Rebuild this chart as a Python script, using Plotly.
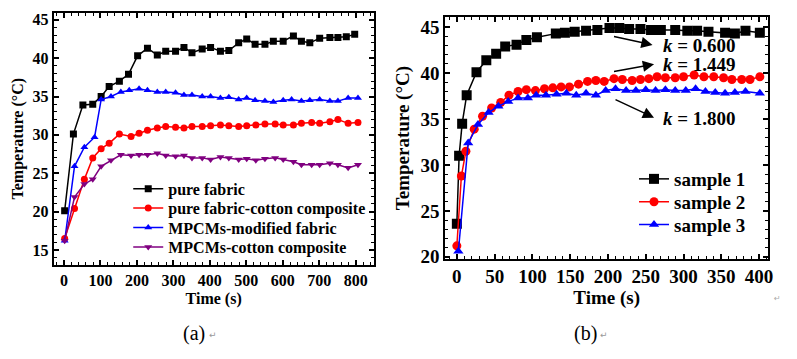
import plotly.graph_objects as go

# ---------------- Panel (a) data ----------------
a_pure_t = [2, 26, 52, 79, 102, 124, 152, 177, 202, 229, 256, 279, 306, 329, 351, 379, 402, 429,
            452, 479, 501, 524, 551, 574, 601, 629, 651, 674, 701, 729, 751, 774, 797]
a_pure_T = [20.1, 30.1, 33.9, 34.0, 35.0, 36.3, 37.0, 37.9, 40.3, 41.3, 40.4, 40.9, 40.9, 41.4, 40.7,
            41.2, 41.4, 40.9, 41.0, 42.0, 42.5, 41.8, 41.8, 42.2, 42.2, 42.9, 42.2, 42.0, 42.6, 42.7,
            42.7, 42.8, 43.1]

a_pfc_t = [2, 29, 56, 79, 102, 124, 152, 184, 206, 229, 256, 279, 306, 329, 351, 379, 402, 429, 452,
           479, 501, 526, 551, 579, 601, 629, 651, 679, 701, 729, 751, 779, 806]
a_pfc_T = [16.5, 20.4, 24.2, 27.0, 28.2, 28.9, 30.1, 29.8, 30.2, 30.6, 30.9, 31.1, 31.0, 30.9, 31.1,
           31.1, 31.2, 31.3, 31.2, 31.1, 31.2, 31.3, 31.4, 31.4, 31.3, 31.3, 31.5, 31.6, 31.5, 31.7,
           32.0, 31.5, 31.6]

a_mf_t = [2, 29, 56, 84, 102, 129, 156, 179, 206, 229, 256, 279, 306, 329, 351, 379, 402, 429, 452,
          479, 501, 524, 551, 574, 601, 624, 651, 674, 701, 729, 751, 779, 806]
a_mf_T = [16.2, 25.9, 28.4, 29.7, 34.6, 35.0, 35.6, 35.8, 36.0, 35.8, 35.6, 35.6, 35.5, 35.2, 35.2,
          35.0, 35.0, 34.8, 34.9, 34.6, 34.8, 34.5, 34.4, 34.3, 34.5, 34.6, 34.4, 34.5, 34.6, 34.4,
          34.4, 34.8, 34.8]

a_mc_t = [2, 29, 56, 79, 102, 129, 156, 184, 206, 229, 256, 279, 306, 329, 351, 379, 402, 429, 452,
          479, 501, 526, 551, 579, 601, 629, 651, 679, 701, 729, 751, 779, 806]
a_mc_T = [16.2, 21.9, 23.6, 24.2, 25.9, 26.7, 27.4, 27.3, 27.4, 27.4, 27.6, 27.3, 27.2, 27.3, 27.0,
          27.0, 26.8, 27.1, 27.0, 26.8, 26.9, 26.7, 26.9, 27.0, 26.8, 26.5, 26.1, 26.1, 26.1, 26.3,
          26.1, 25.7, 26.1]

a_names = ["pure fabric", "pure fabric-cotton composite", "MPCMs-modified fabric", "MPCMs-cotton composite"]

# ---------------- Panel (b) data ----------------
b_s1_t = [0, 3, 7, 13, 26, 39, 52, 64, 79, 92, 106, 131, 143, 156, 171, 186, 202, 215, 228, 243,
          257, 270, 289, 305, 318, 333, 355, 368, 382, 401]
b_s1_T = [23.6, 31.0, 34.5, 37.6, 40.1, 41.4, 42.1, 42.9, 43.1, 43.6, 43.9, 44.3, 44.4, 44.5, 44.6,
          44.7, 44.9, 44.9, 44.8, 44.8, 44.7, 44.7, 44.7, 44.6, 44.6, 44.5, 44.4, 44.3, 44.6, 44.4]

b_s2_t = [0, 6, 12, 23, 34, 46, 58, 69, 81, 92, 104, 116, 127, 138, 149, 161, 173, 184, 195, 208,
          219, 232, 243, 254, 265, 276, 289, 300, 314, 327, 340, 353, 364, 377, 388, 401]
b_s2_T = [21.2, 28.8, 31.5, 33.9, 35.3, 36.2, 36.8, 37.6, 38.0, 38.2, 38.1, 38.3, 38.4, 38.5, 38.5,
          38.8, 39.1, 39.2, 39.1, 39.4, 39.3, 39.2, 39.3, 39.4, 39.6, 39.5, 39.5, 39.6, 39.8, 39.6,
          39.6, 39.5, 39.3, 39.3, 39.3, 39.6]

b_s3_t = [2, 15, 28, 42, 55, 68, 81, 94, 105, 118, 132, 145, 158, 171, 184, 197, 210, 224, 237, 250,
          263, 276, 289, 303, 316, 329, 342, 355, 368, 382, 401]
b_s3_T = [20.6, 32.4, 34.4, 35.7, 36.4, 36.9, 37.3, 37.3, 37.6, 37.6, 37.7, 37.8, 37.6, 37.8, 37.6,
          38.1, 38.3, 38.1, 38.1, 38.2, 38.1, 38.2, 38.1, 38.1, 38.3, 38.0, 37.9, 37.8, 37.9, 38.0, 37.8]

b_names = ["sample 1", "sample 2", "sample 3"]
k_labels = ["0.600", "1.449", "1.800"]

FONT = "Liberation Serif"
# page body has an 8px default margin: figure covers window pixels 8..797 x 8..359
OFF = 8
W, H = 797 - OFF, 359 - OFF


def px(xw):
    return (xw - OFF) / W


def py(yw):
    return 1 - (yw - OFF) / H


fig = go.Figure()

# one legend per entry so that rows can be spaced like the original
a_legend_rows = [193, 213, 233, 253]
b_legend_rows = [183, 206.5, 230]

a_series = [(a_pure_t, a_pure_T, "#000000", "square"),
            (a_pfc_t, a_pfc_T, "#ff0000", "circle"),
            (a_mf_t, a_mf_T, "#0000ff", "triangle-up"),
            (a_mc_t, a_mc_T, "#800080", "triangle-down")]
legend_layouts = {}
n = 1
for (t, T, c, sym), name, row in zip(a_series, a_names, a_legend_rows):
    lname = "legend" if n == 1 else f"legend{n}"
    fig.add_trace(go.Scatter(x=t, y=T, name=name, mode="lines+markers",
                             line=dict(color=c, width=1.5),
                             marker=dict(color=c, symbol=sym, size=7),
                             xaxis="x", yaxis="y", legend=lname))
    legend_layouts[lname] = dict(x=px(129), y=py(row), xanchor="left", yanchor="middle",
                                 bgcolor="rgba(0,0,0,0)",
                                 font=dict(family=FONT, size=16, color="black", weight="bold"))
    n += 1

b_series = [(b_s1_t, b_s1_T, "#000000", "square"),
            (b_s2_t, b_s2_T, "#ff0000", "circle"),
            (b_s3_t, b_s3_T, "#0000ff", "triangle-up")]
for (t, T, c, sym), name, row in zip(b_series, b_names, b_legend_rows):
    lname = f"legend{n}"
    fig.add_trace(go.Scatter(x=t, y=T, name=name, mode="lines+markers",
                             line=dict(color=c, width=1.5),
                             marker=dict(color=c, symbol=sym, size=10 if sym == "square" else 9),
                             xaxis="x2", yaxis="y2", legend=lname))
    legend_layouts[lname] = dict(x=px(638), y=py(row), xanchor="left", yanchor="middle",
                                 bgcolor="rgba(0,0,0,0)",
                                 font=dict(family=FONT, size=19, color="black", weight="bold"))
    n += 1


def ax(size, **kw):
    d = dict(showline=True, linecolor="black", linewidth=2, mirror="allticks",
             ticks="inside", ticklen=5, tickwidth=1.5, tickcolor="black",
             minor=dict(ticks="inside", ticklen=3, tickwidth=1.2, tickcolor="black"),
             showgrid=False, zeroline=False,
             tickfont=dict(family=FONT, size=size, color="black", weight="bold"))
    d.update(kw)
    return d


title_a = dict(family=FONT, size=16, color="black", weight="bold")
title_b = dict(family=FONT, size=19, color="black", weight="bold")

fig.update_layout(
    width=W, height=H, margin=dict(l=0, r=0, t=0, b=0),
    paper_bgcolor="white", plot_bgcolor="white",
    xaxis=ax(16, domain=[px(54), px(376)], range=[-28, 849], dtick=100, tick0=0,
             title=dict(text="Time (s)", font=title_a, standoff=5), anchor="y"),
    yaxis=ax(16, domain=[py(271), py(12)], range=[13.1, 45.9], dtick=5, tick0=0,
             title=dict(text="Temperature (°C)", font=title_a, standoff=5), anchor="x"),
    xaxis2=ax(19, domain=[px(448), px(773)], range=[-15.4, 412], dtick=50, tick0=0,
              title=dict(text="Time (s)", font=title_b, standoff=3), anchor="y2"),
    yaxis2=ax(19, domain=[py(265), py(16.7)], range=[19.8, 46.06], dtick=5, tick0=0,
              title=dict(text="Temperature (°C)", font=title_b, standoff=6), anchor="x2"),
    showlegend=True,
    **legend_layouts,
)

# k annotations (arrows with text), in data coordinates of panel (b)
arrows = [((206, 44.02), (259, 43.07), (270, 43.0)),
          ((206, 40.14), (261, 40.96), (270, 40.95)),
          ((208, 37.19), (261, 35.15), (270, 35.1))]
for (tail, tip, txt), k in zip(arrows, k_labels):
    fig.add_annotation(x=tip[0], y=tip[1], ax=tail[0], ay=tail[1], xref="x2", yref="y2",
                       axref="x2", ayref="y2", text="", showarrow=True, arrowhead=2,
                       arrowsize=1.5, arrowwidth=1.5, arrowcolor="black")
    fig.add_annotation(x=txt[0], y=txt[1], xref="x2", yref="y2", xanchor="left", yanchor="middle",
                       text="<i>k</i> = " + k, showarrow=False,
                       font=dict(family=FONT, size=19, color="black", weight="bold"))

# captions
for cap, xc in [("(a)", 195), ("(b)", 589)]:
    fig.add_annotation(x=px(xc), y=py(342), xref="paper", yref="paper", xanchor="center",
                       yanchor="middle", showarrow=False, text=cap,
                       font=dict(family=FONT, size=20, color="black"))
    fig.add_annotation(x=px(xc + 19), y=py(344), xref="paper", yref="paper", xanchor="center",
                       yanchor="middle", showarrow=False, text="↵",
                       font=dict(family="DejaVu Sans", size=9, color="#999999"))
fig.add_annotation(x=px(788), y=py(313), xref="paper", yref="paper", showarrow=False, text="↵",
                   font=dict(family="DejaVu Sans", size=8, color="#aaaaaa"))

fig.write_html("out.html")
